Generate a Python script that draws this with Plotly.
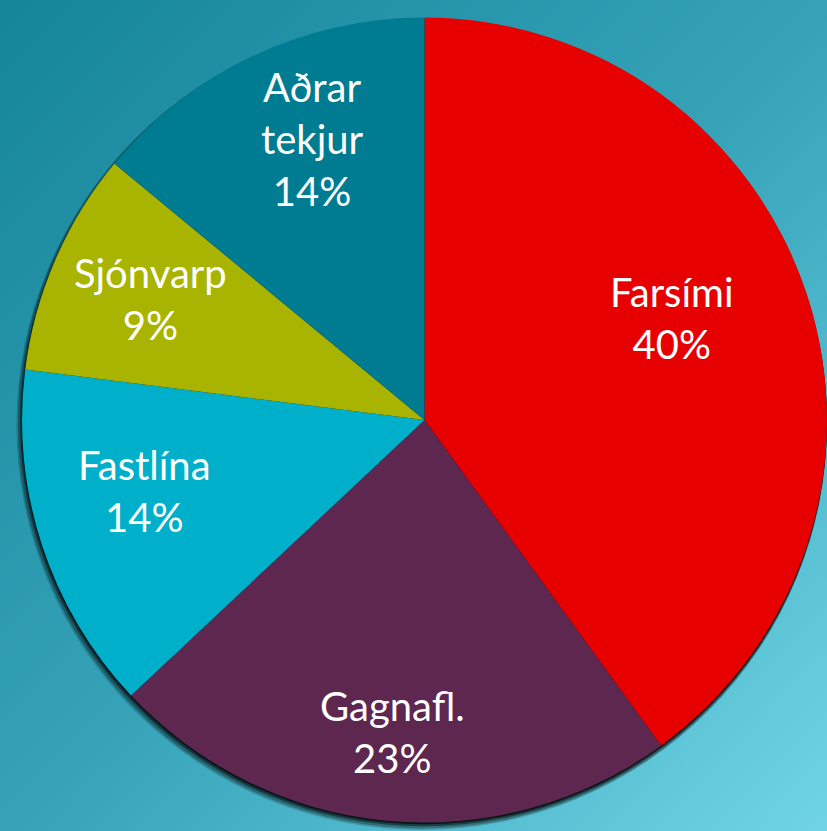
import math
import base64
import plotly.graph_objects as go

# ---- data ----
labels = ["Farsími", "Gagnafl.", "Fastlína", "Sjónvarp", "Aðrar tekjur"]
label_text = ["Farsími", "Gagnafl.", "Fastlína", "Sjónvarp", "Aðrar<br>tekjur"]
values = [40, 23, 14, 9, 14]

# ---- style ----
colors = ["#e60000", "#5e2750", "#00b0ca", "#a8b400", "#007c92"]
label_radius = [0.665, 0.78, 0.718, 0.745, 0.752]   # fraction of pie radius
label_angle_adj = [4.5, -0.5, -3.7, -0.5, -3.5]     # degrees, placement tweak

W, H = 827, 831
CX, CY, R = 424.5, 420.0, 402.5  # pixel geometry of the pie domain

def clamp(v):
    return max(0.0, min(1.0, v))

def dom(cx, cy, r):
    return dict(x=[clamp((cx - r) / W), clamp((cx + r) / W)],
                y=[clamp((H - cy - r) / H), clamp((H - cy + r) / H)])

# background gradient (svg)
svg = ('<svg xmlns="http://www.w3.org/2000/svg" width="827" height="831">'
       '<defs><linearGradient id="g" x1="0" y1="0" x2="1" y2="1">'
       '<stop offset="0" stop-color="#15859a"/>'
       '<stop offset="0.5" stop-color="#35a2b8"/>'
       '<stop offset="1" stop-color="#70d4e5"/>'
       '</linearGradient></defs>'
       '<rect width="827" height="831" fill="url(#g)"/></svg>')
bg_src = "data:image/svg+xml;base64," + base64.b64encode(svg.encode()).decode()

fig = go.Figure()

# soft drop shadow layers (cx, cy, r, opacity)
shadow_layers = [(421.5, 425.0, 405.0, 0.18), (422.5, 424.0, 404.5, 0.28),
                 (423.5, 422.8, 403.5, 0.45), (424.5, 421.5, 403.0, 0.65)]
for sx, sy, sr, op in shadow_layers:
    fig.add_trace(go.Pie(
        values=[sum(values)], labels=["shadow"], sort=False,
        marker=dict(colors=["#000000"], line=dict(width=0)),
        domain=dom(sx, sy, sr), opacity=op,
        textinfo="none", hoverinfo="skip", showlegend=False))

fig.add_trace(go.Pie(
    labels=labels, values=values, sort=False, direction="clockwise",
    rotation=0, marker=dict(colors=colors, line=dict(width=0)),
    domain=dom(CX, CY, R), textinfo="none", showlegend=False,
    hovertemplate="%{label}: %{percent}<extra></extra>"))

# labels placed along each slice's mid-angle
total = sum(values)
cum = 0
annotations = []
for lab, v, rf, adj in zip(label_text, values, label_radius, label_angle_adj):
    mid = math.radians(90 - 360 * (cum + v / 2) / total + adj)
    cum += v
    px = CX + rf * R * math.cos(mid)
    py = CY - rf * R * math.sin(mid)
    pct = round(100 * v / total)
    annotations.append(dict(
        x=px / W, y=1 - py / H, xref="paper", yref="paper",
        text=f"{lab}<br>{pct}%", showarrow=False,
        xanchor="center", yanchor="middle",
        font=dict(family="Lato", size=40, color="white")))

fig.update_layout(
    width=W, height=H, margin=dict(l=0, r=0, t=0, b=0),
    paper_bgcolor="#35a2b8", plot_bgcolor="rgba(0,0,0,0)",
    images=[dict(source=bg_src, xref="paper", yref="paper", x=0, y=1,
                 sizex=1, sizey=1, sizing="stretch", layer="below",
                 xanchor="left", yanchor="top")],
    annotations=annotations, showlegend=False)

fig.write_html(
    "out.html",
    config={"displayModeBar": False},
    post_script="document.body.style.margin='0';"
                "document.body.style.overflow='hidden';")
